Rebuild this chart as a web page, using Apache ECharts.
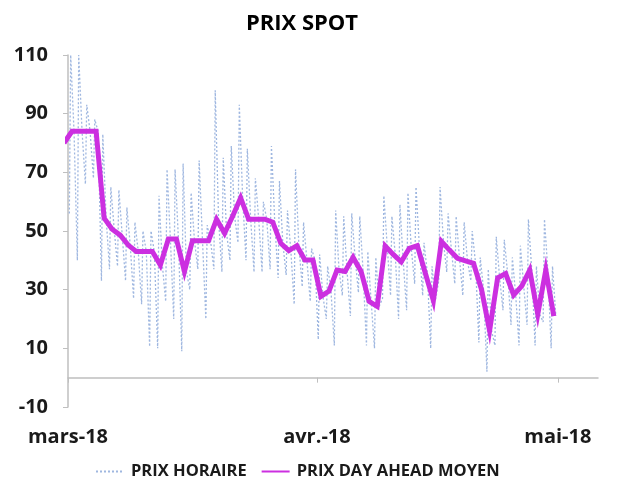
<!DOCTYPE html>
<html>
<head>
<meta charset="utf-8">
<script src="https://cdn.jsdelivr.net/npm/echarts@6/dist/echarts.min.js"></script>
<style>
html,body{margin:0;padding:0;background:#fff;}
#chart{width:632px;height:497px;}
</style>
</head>
<body>
<div id="chart"></div>
<script>
// ---- data ----
const titleText = 'PRIX SPOT';
const seriesNames = ['PRIX HORAIRE', 'PRIX DAY AHEAD MOYEN'];
// daily average (day-ahead), one value per day starting 2018-02-28
const dailyStart = '2018-02-28';
const dailyAvg = [80,
  84, 84, 84, 84, 54.4, 50.6, 48.6, 45.2, 43, 43,
  43, 38.4, 47.3, 47.3, 36.2, 46.7, 46.7, 46.7, 54, 49.2,
  55, 61.3, 54, 54, 54, 53, 45.8, 43.3, 45, 40.1, 40.1,
  27.7, 29.5, 36.7, 36.2, 41, 36.2, 26, 24.3, 44.9, 42,
  39.5, 44.1, 45, 35.6, 26.3, 46.5, 43.5, 40.7, 39.8, 39,
  30, 16, 34, 35.5, 28.2, 31.2, 36.7, 21.6, 36.7, 21];
// hourly prices from 2018-03-01: per day night low, peak high, evening level
const hourlyStart = '2018-03-01';
const hourlyLow = [56, 40, 66, 68, 33, 37, 38, 33, 27, 25,
  10.6, 10, 26, 20, 9, 30, 37, 20, 37, 36,
  40, 46, 40, 36, 36, 37, 34, 35, 25, 31, 26,
  13, 20, 11, 28, 21, 29, 11, 10, 27, 28,
  20, 23, 32, 28, 10, 33, 36, 32, 28, 33,
  12, 2, 11, 23, 18, 11, 18, 11, 19, 10];
const hourlyHigh = [110, 110, 93, 88, 83, 65, 64, 58, 53, 50,
  50, 62, 71, 71, 73, 63, 74, 52, 98, 75,
  79, 93, 78, 68, 60, 79, 67, 57, 71, 53, 44,
  42, 38, 57, 55, 56, 55, 43, 41, 62, 55,
  59, 63, 65, 46, 38, 65, 56, 55, 53, 50,
  41, 37, 48, 47, 41, 45, 54, 38, 54, 38];
const hourLowAt = 4, hourPeakAt = 8, hourEveAt = 18;
const xTickDates = ['2018-03-01', '2018-04-01', '2018-05-01'];
const xTickLabels = ['mars-18', 'avr.-18', 'mai-18'];
const xMinDate = '2018-03-01', xMaxDate = '2018-05-06';
const yTickValues = [-10, 10, 30, 50, 70, 90, 110];

// ---- build ----
const DAY = 86400000, HOUR = 3600000;
function ts(s) { const p = s.split('-').map(Number); return Date.UTC(p[0], p[1] - 1, p[2]); }
const dailyData = dailyAvg.map((v, i) => [ts(dailyStart) + i * DAY + 12 * HOUR, v]);
const hourlyData = [];
hourlyLow.forEach((lo, i) => {
  const d0 = ts(hourlyStart) + i * DAY;
  hourlyData.push([d0 + hourLowAt * HOUR, lo]);
  hourlyData.push([d0 + hourPeakAt * HOUR, hourlyHigh[i]]);
  hourlyData.push([d0 + hourEveAt * HOUR, dailyAvg[i + 1]]);
});
const xTickTs = xTickDates.map(ts);

const FONT = 'Open Sans';
const chart = echarts.init(document.getElementById('chart'), null, { renderer: 'canvas' });
chart.setOption({
  animation: false,
  backgroundColor: '#ffffff',
  title: {
    text: titleText, left: 297, top: 8, textAlign: 'center',
    textStyle: { fontFamily: FONT, fontWeight: 'bold', fontSize: 22, color: '#000' }
  },
  grid: { left: 68, right: 34, top: 55, bottom: 90, containLabel: false },
  legend: {
    bottom: 12, left: 90, itemWidth: 28, itemHeight: 10, itemGap: 14,
    itemStyle: { opacity: 0 },
    textStyle: { fontFamily: FONT, fontWeight: 700, fontSize: 16.5, color: '#1a1a1a', padding: [0, 0, 0, 2] },
    data: seriesNames
  },
  xAxis: {
    type: 'value', min: ts(xMinDate), max: ts(xMaxDate),
    axisLine: { onZero: true, lineStyle: { color: '#bfbfbf', width: 1.5 } },
    axisTick: { show: true, customValues: xTickTs, length: 5, lineStyle: { color: '#bfbfbf' } },
    axisLabel: {
      customValues: xTickTs, margin: 20,
      fontFamily: FONT, fontWeight: 'bold', fontSize: 20, color: '#1a1a1a',
      formatter: v => { const i = xTickTs.indexOf(v); return i >= 0 ? xTickLabels[i] : ''; }
    },
    splitLine: { show: false }
  },
  yAxis: {
    type: 'value', min: -10, max: 110,
    axisLine: { show: true, lineStyle: { color: '#bfbfbf', width: 1.5 } },
    axisTick: { show: true, customValues: yTickValues, length: 5, lineStyle: { color: '#bfbfbf' } },
    axisLabel: {
      customValues: yTickValues, margin: 20,
      fontFamily: FONT, fontWeight: 'bold', fontSize: 20, color: '#1a1a1a'
    },
    splitLine: { show: false }
  },
  series: [
    {
      name: seriesNames[0], type: 'line', data: hourlyData, symbol: 'none',
      lineStyle: { color: '#9fb7e0', width: 1.3, type: [2, 2] },
      itemStyle: { color: '#9fb7e0' }, z: 2, clip: true
    },
    {
      name: seriesNames[1], type: 'line', data: dailyData, symbol: 'none',
      lineStyle: { color: '#cc2fe0', width: 5, join: 'miter' },
      itemStyle: { color: '#cc2fe0' }, z: 3, clip: true
    }
  ]
});
</script>
</body>
</html>
